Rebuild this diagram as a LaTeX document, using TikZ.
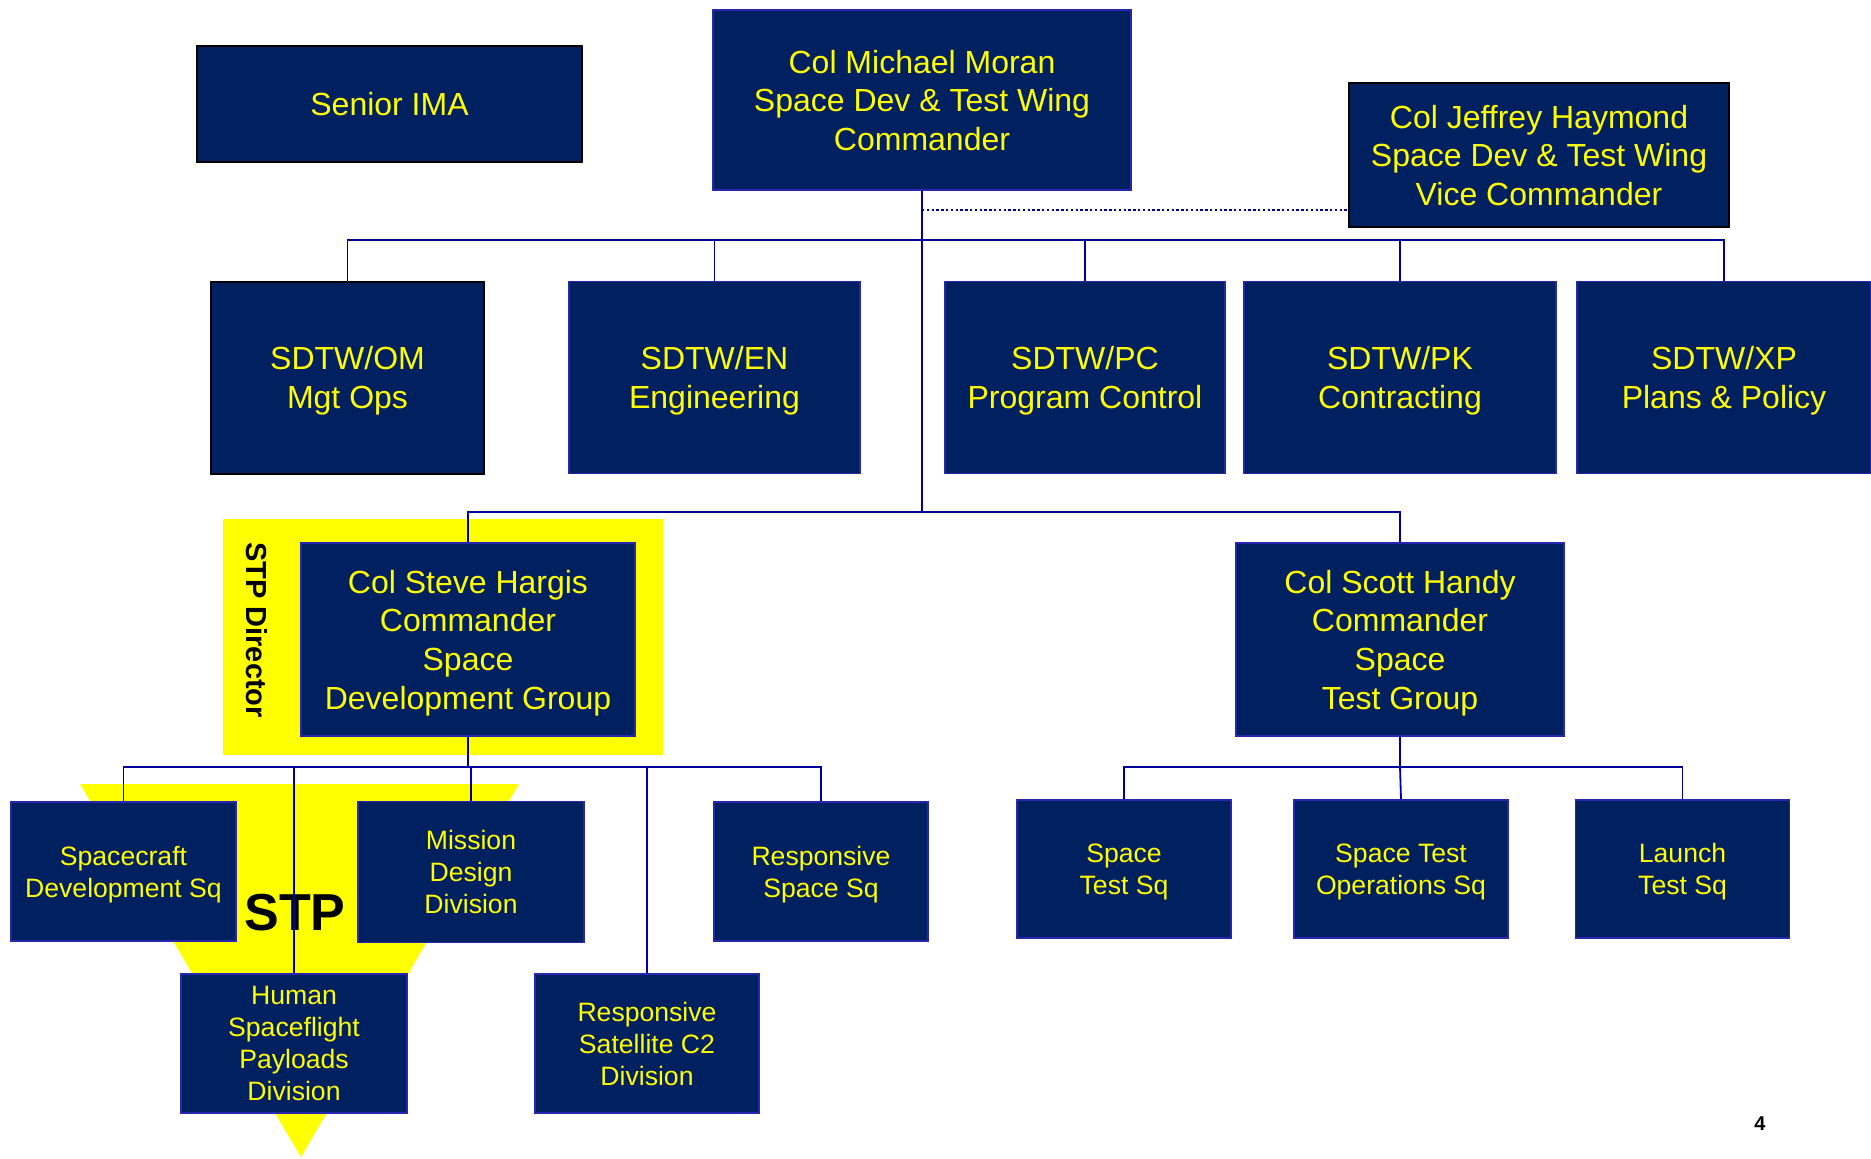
\documentclass[tikz,border=0pt]{standalone}
\usepackage{fontspec}
\setmainfont{Liberation Sans}
\usetikzlibrary{positioning}
\definecolor{navy}{HTML}{002060}
\definecolor{textyellow}{HTML}{FFFF00}
\definecolor{linkblue}{HTML}{0000A0}
\colorlet{stpyellow}{textyellow}
\colorlet{boxborder}{linkblue!85!white}
\tikzstyle{bigbox}=[textyellow, align=center, draw=boxborder, line width=0.8pt, fill=navy, inner sep=0pt, text depth=0pt, font=\fontsize{16}{19.3}\selectfont]
\tikzstyle{smallbox}=[bigbox, font=\fontsize{13.3}{16}\selectfont]
\tikzstyle{blackedge}=[draw=black, line width=1pt]
\tikzstyle{link}=[linkblue, line width=0.9pt]

\begin{document}
\begin{tikzpicture}[x=0.5pt, y=-0.5pt]
    \useasboundingbox (0,0) rectangle (1871,1158);

    % STP backdrop
    \fill[stpyellow] (223,519) rectangle (663,755);
    \fill[stpyellow] (80,784) -- (519,784) -- (301,1157) -- cycle;
    \node[black, font=\bfseries\fontsize{14.5}{17}\selectfont, rotate=-90] at (256.5,630) (director) {STP Director};
    \node[black, font=\bfseries\fontsize{26}{30}\selectfont] at (295,913) (stp) {STP};

    % Wing
    \node[bigbox, blackedge, minimum width=192.5pt, minimum height=57.75pt] at (389.5,104) (ima) {Senior IMA};
    \node[bigbox, minimum width=208.75pt, minimum height=90.25pt] at (922,100) (moran) {Col Michael Moran\\Space Dev \& Test Wing\\Commander};
    \node[bigbox, blackedge, minimum width=190pt, minimum height=71.75pt] at (1539,155) (haymond) {Col Jeffrey Haymond\\Space Dev \& Test Wing\\Vice Commander};

    % Staff
    \node[bigbox, blackedge, minimum width=136.5pt, minimum height=96pt] at (347.5,377.5) (sdtwom) {SDTW/OM\\Mgt Ops};
    \node[bigbox, minimum width=145.5pt, minimum height=96pt] at (714.5,377.5) (sdtwen) {SDTW/EN\\Engineering};
    \node[bigbox, minimum width=140pt, minimum height=96pt] at (1085,377.5) (sdtwpc) {SDTW/PC\\Program Control};
    \node[bigbox, minimum width=155.75pt, minimum height=96pt] at (1400,377.5) (sdtwpk) {SDTW/PK\\Contracting};
    \node[bigbox, minimum width=147pt, minimum height=96pt] at (1724,377.5) (sdtwxp) {SDTW/XP\\Plans \& Policy};

    % Groups
    \node[bigbox, minimum width=167pt, minimum height=96.5pt] at (468,639.5) (hargis) {Col Steve Hargis\\Commander\\Space\\Development Group};
    \node[bigbox, minimum width=164pt, minimum height=96.5pt] at (1400,639.5) (handy) {Col Scott Handy\\Commander\\Space\\Test Group};

    % Squadrons and divisions
    \node[smallbox, minimum width=112.5pt, minimum height=69.5pt] at (123.5,871.5) (craft) {Spacecraft\\Development Sq};
    \node[smallbox, minimum width=112.75pt, minimum height=70.5pt] at (471,872) (mission) {Mission\\Design\\Division};
    \node[smallbox, minimum width=107pt, minimum height=69.5pt] at (821,871.5) (rss) {Responsive\\Space Sq};
    \node[smallbox, minimum width=113pt, minimum height=69.5pt] at (294,1043.5) (human) {Human\\Spaceflight\\Payloads\\Division};
    \node[smallbox, minimum width=112pt, minimum height=69.5pt] at (647,1043.5) (satc2) {Responsive\\Satellite C2\\Division};
    \node[smallbox, minimum width=107pt, minimum height=69pt] at (1124,869) (sts) {Space\\Test Sq};
    \node[smallbox, minimum width=107pt, minimum height=69pt] at (1401,869) (stos) {Space Test\\Operations Sq};
    \node[smallbox, minimum width=107pt, minimum height=69pt] at (1682.5,869) (lts) {Launch\\Test Sq};

    \node[black, font=\bfseries\fontsize{10}{12}\selectfont] at (1760,1124) (pagenum) {4};

    % Links
    \coordinate (wingbus) at (moran.south |- 0,240);
    \coordinate (groupbus) at (moran.south |- 0,512);
    \coordinate (devbus) at (hargis.south |- 0,767);
    \coordinate (testbus) at (handy.south |- 0,767);

    \draw[link] (moran.south) -- (groupbus);
    \draw[link, dash pattern=on 1.2pt off 1.2pt, line width=1.2pt] (moran.south |- 0,210) -- (haymond.west |- 0,210);
    \draw[link] (sdtwom.north) |- (wingbus) -| (sdtwxp.north);
    \foreach \unit in {sdtwen, sdtwpc, sdtwpk}
        \draw[link] (\unit.north) -- (\unit.north |- wingbus);
    \draw[link] (hargis.north) |- (groupbus) -| (handy.north);

    \draw[link] (hargis.south) -- (devbus);
    \draw[link] (craft.north) |- (devbus) -| (rss.north);
    \foreach \unit in {human, mission, satc2}
        \draw[link] (\unit.north) -- (\unit.north |- devbus);

    \draw[link] (handy.south) -- (testbus);
    \draw[link] (sts.north) |- (testbus) -| (lts.north);
    \draw[link] (stos.north) -- (testbus);
\end{tikzpicture}
\end{document}
